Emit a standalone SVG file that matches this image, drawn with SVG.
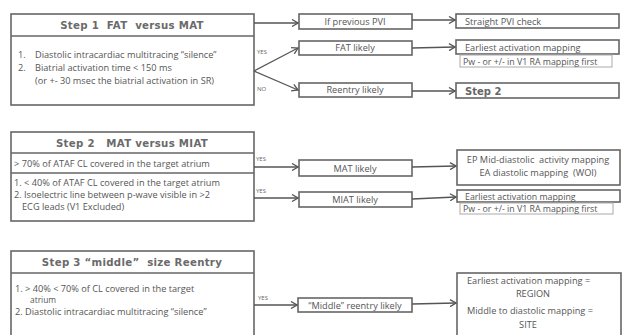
<svg xmlns="http://www.w3.org/2000/svg" width="622" height="335" viewBox="0 0 622 335">
<defs>
<marker id="arr" viewBox="0 0 8 8" refX="7" refY="4" markerWidth="8" markerHeight="8" markerUnits="userSpaceOnUse" orient="auto">
<path d="M1,0.5 L7,4 L1,7.5" fill="none" stroke="#555" stroke-width="1.3"/>
</marker>
</defs>
<style>
text{white-space:pre}
.bg{fill:#fff}
.box{fill:#fff;stroke:#666;stroke-width:1.6}
.lbox{fill:#fff;stroke:#aaa;stroke-width:1}
.hd{font-family:"DejaVu Sans",sans-serif;font-weight:bold;font-size:10.2px;fill:#6a6a6a;text-anchor:middle;letter-spacing:0.3px}
.t{font-family:"Open Sans","Liberation Sans",sans-serif;font-size:9.2px;fill:#555}
.t2{font-size:8.8px}
.t3{font-size:8.4px}
.c{text-anchor:middle}
.s{font-family:"Open Sans","Liberation Sans",sans-serif;font-size:6px;fill:#666}
.ln{fill:none;stroke:#555;stroke-width:1.3;marker-end:url(#arr)}
.st{font-family:"DejaVu Sans",sans-serif;font-weight:bold;font-size:10px;fill:#666}
</style>
<rect class="bg" width="622" height="335"/>

<g id="step1">
<rect class="box" x="11" y="14" width="243" height="91"/>
<line x1="11" y1="36" x2="254" y2="36" stroke="#666" stroke-width="1.6"/>
<text class="hd" x="132" y="29">Step 1  FAT  versus MAT</text>
<text class="t" x="18" y="58">1.<tspan x="35">Diastolic intracardiac multitracing “silence”</tspan></text>
<text class="t" x="18" y="71">2.<tspan x="35">Biatrial activation time &lt; 150 ms</tspan></text>
<text class="t" x="35" y="84">(or +- 30 msec the biatrial activation in SR)</text>
</g>

<g id="prevpvi"><rect class="box" x="299" y="14" width="113" height="15"/><text class="t c" x="355" y="24.5">If previous PVI</text></g>
<g id="fatlikely"><rect class="box" x="299" y="41" width="113" height="14"/><text class="t c" x="355" y="51">FAT likely</text></g>
<g id="reentrylikely"><rect class="box" x="299" y="83" width="113" height="14"/><text class="t c" x="355" y="93">Reentry likely</text></g>
<g id="pvicheck"><rect class="box" x="456" y="14" width="163" height="14"/><text class="t" x="465" y="24.5">Straight PVI check</text></g>
<g id="earliest1"><rect class="box" x="456" y="40" width="163" height="14"/><text class="t" x="465" y="50.5">Earliest activation mapping</text></g>
<g id="pw1"><rect class="lbox" x="460" y="55" width="152" height="12"/><text class="t t2" x="463" y="64.5">Pw - or +/- in V1 RA mapping first</text></g>
<g id="step2link"><rect class="box" x="456" y="83" width="163" height="15"/><text class="st" x="465" y="94.5">Step 2</text></g>

<g id="step2">
<rect class="box" x="11" y="132" width="243" height="89"/>
<line x1="11" y1="153" x2="254" y2="153" stroke="#666" stroke-width="1.6"/>
<line x1="11" y1="173" x2="254" y2="173" stroke="#666" stroke-width="1.6"/>
<text class="hd" x="132" y="147">Step 2   MAT versus MIAT</text>
<text class="t" x="14" y="166.5">&gt; 70% of ATAF CL covered in the target atrium</text>
<text class="t" x="14" y="186">1. &lt; 40% of ATAF CL covered in the target atrium</text>
<text class="t" x="14" y="198">2. Isoelectric line between p-wave visible in &gt;2</text>
<text class="t" x="22" y="210">ECG leads (V1 Excluded)</text>
</g>

<g id="matlikely"><rect class="box" x="299" y="160" width="113" height="16"/><text class="t c" x="355" y="171.5">MAT likely</text></g>
<g id="miatlikely"><rect class="box" x="299" y="192" width="113" height="15"/><text class="t c" x="355" y="203">MIAT likely</text></g>
<g id="epmid"><rect class="box" x="457" y="150" width="163" height="35"/><text class="t c" x="538" y="163">EP Mid-diastolic  activity mapping</text><text class="t c" x="538" y="176">EA diastolic mapping  (WOI)</text></g>
<g id="earliest2"><rect class="box" x="457" y="190" width="163" height="12"/><text class="t t2" x="465" y="199.5">Earliest activation mapping</text></g>
<g id="pw2"><rect class="lbox" x="460" y="203" width="153" height="11"/><text class="t t2" x="463" y="211.5">Pw - or +/- in V1 RA mapping first</text></g>

<g id="step3">
<rect class="box" x="11" y="251" width="243" height="95"/>
<line x1="11" y1="273" x2="254" y2="273" stroke="#666" stroke-width="1.6"/>
<text class="hd" x="132" y="266">Step 3 “middle”  size Reentry</text>
<text class="t" x="15" y="291.5">1. &gt; 40% &lt; 70% of CL covered in the target</text>
<text class="t t3" x="30" y="303">atrium</text>
<text class="t" x="15" y="315">2. Diastolic intracardiac multitracing “silence”</text>
</g>

<g id="middlelikely"><rect class="box" x="298" y="298" width="114" height="14"/><text class="t c" x="355" y="308.5">“Middle” reentry likely</text></g>
<g id="regionsite"><rect class="box" x="457" y="273" width="164" height="75"/>
<text class="t" x="467" y="284">Earliest activation mapping =</text>
<text class="t c" x="533" y="297">REGION</text>
<text class="t" x="467" y="314">Middle to diastolic mapping =</text>
<text class="t c" x="528" y="328">SITE</text></g>

<g id="connectors">
<path class="ln" d="M254,23 L298,23"/>
<path class="ln" d="M254,71 L298,48"/>
<path class="ln" d="M254,71 L298,90"/>
<path class="ln" d="M412,20 L455,20"/>
<path class="ln" d="M412,48 L455,47"/>
<path class="ln" d="M412,91 L455,91"/>
<path class="ln" d="M254,167 L298,167"/>
<path class="ln" d="M254,198 L298,198"/>
<path class="ln" d="M412,167 L456,166"/>
<path class="ln" d="M412,199 L456,197"/>
<path class="ln" d="M254,305 L297,305"/>
<path class="ln" d="M412,304 L456,303"/>
<text class="s" x="257" y="54">YES</text>
<text class="s" x="257" y="91">NO</text>
<text class="s" x="256" y="161">YES</text>
<text class="s" x="256" y="193">YES</text>
<text class="s" x="258" y="300">YES</text>
</g>
</svg>
